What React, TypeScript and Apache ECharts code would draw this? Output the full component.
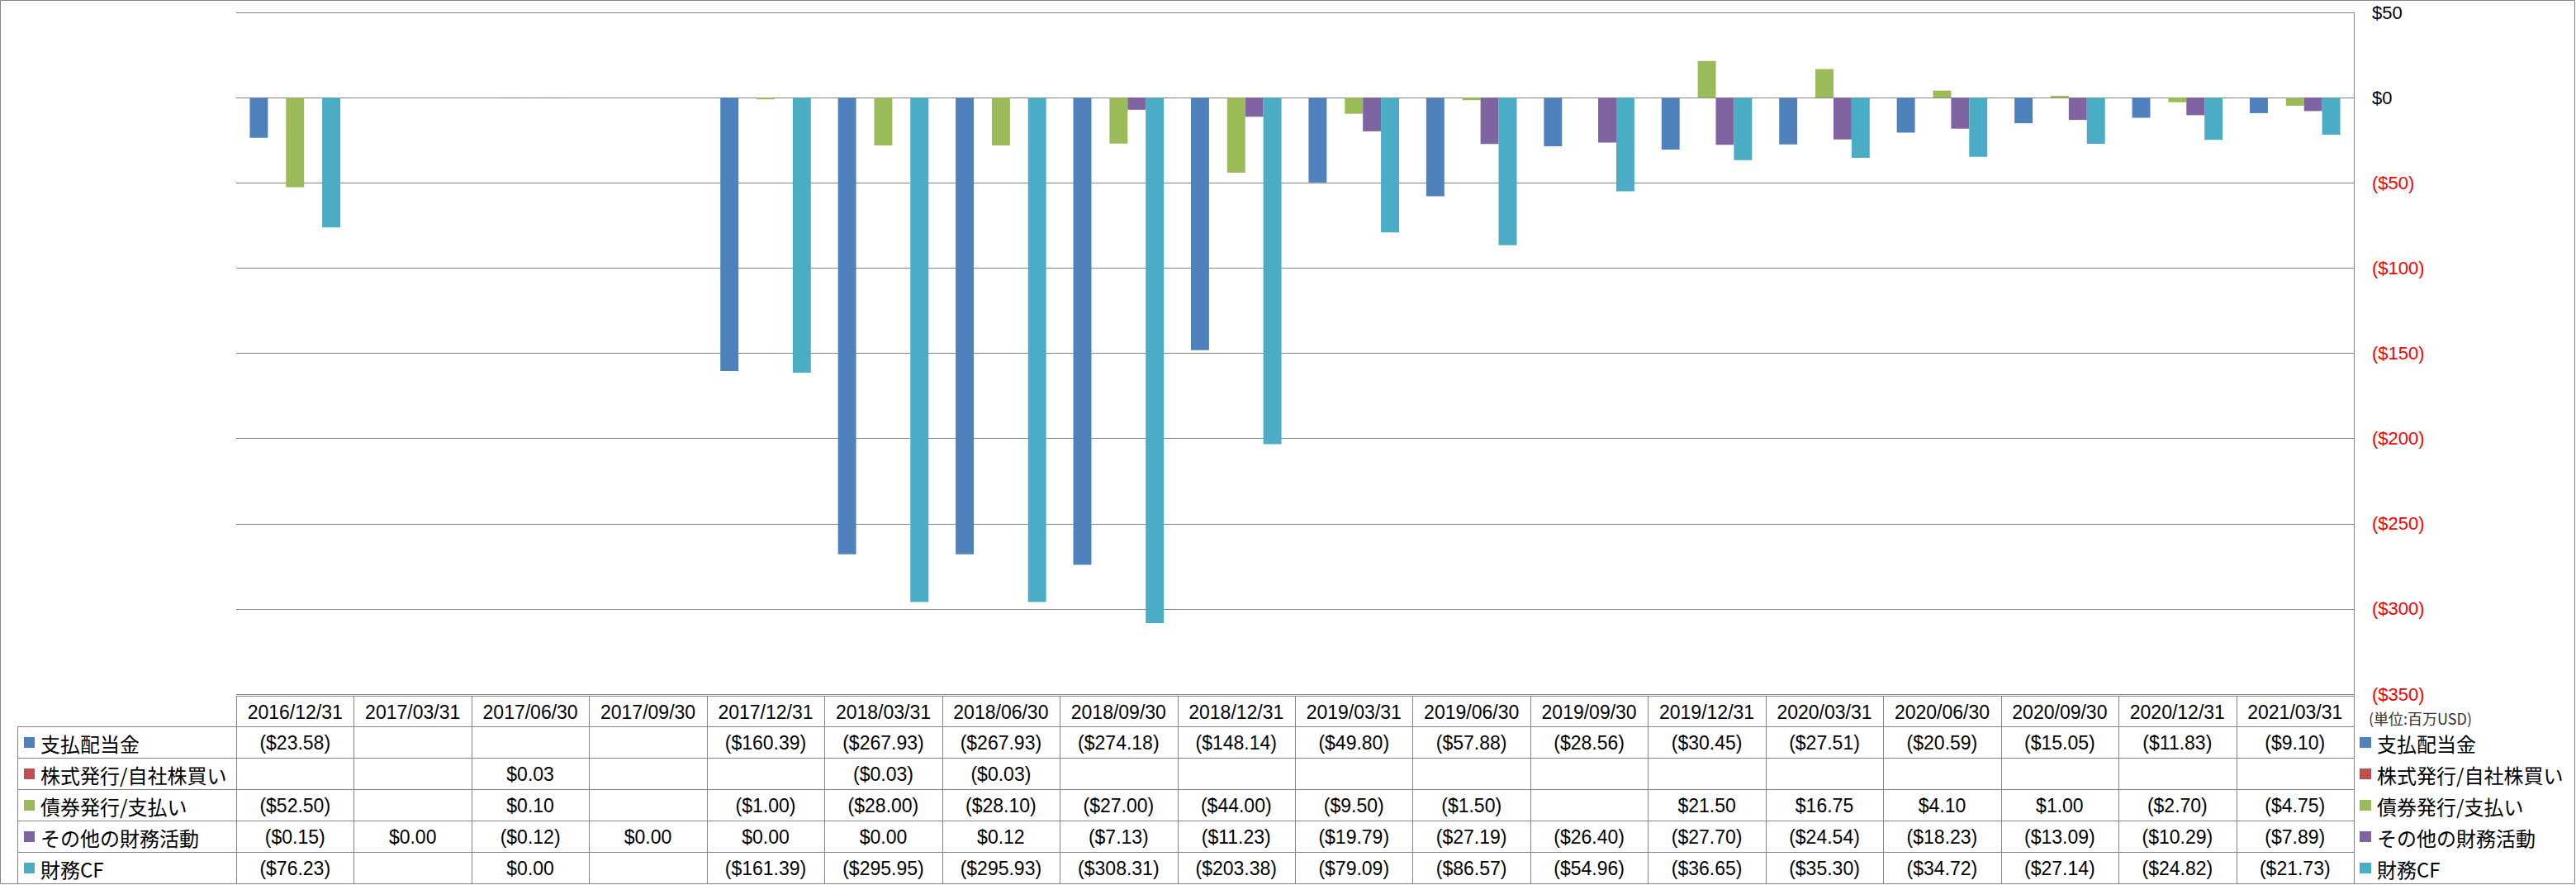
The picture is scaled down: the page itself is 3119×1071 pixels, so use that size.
import React, { useEffect, useRef } from 'react';
import * as echarts from 'echarts';

const W = 3119;
const H = 1071;

const CATEGORIES = [
  '2016/12/31', '2017/03/31', '2017/06/30', '2017/09/30', '2017/12/31', '2018/03/31',
  '2018/06/30', '2018/09/30', '2018/12/31', '2019/03/31', '2019/06/30', '2019/09/30',
  '2019/12/31', '2020/03/31', '2020/06/30', '2020/09/30', '2020/12/31', '2021/03/31',
];

const SERIES_NAMES = ['支払配当金', '株式発行/自社株買い', '債券発行/支払い', 'その他の財務活動', '財務CF'];

const DIVIDENDS = [-23.58, null, null, null, -160.39, -267.93, -267.93, -274.18, -148.14, -49.8, -57.88, -28.56, -30.45, -27.51, -20.59, -15.05, -11.83, -9.1];
const STOCK = [null, null, 0.03, null, null, -0.03, -0.03, null, null, null, null, null, null, null, null, null, null, null];
const DEBT = [-52.5, null, 0.1, null, -1.0, -28.0, -28.1, -27.0, -44.0, -9.5, -1.5, null, 21.5, 16.75, 4.1, 1.0, -2.7, -4.75];
const OTHER = [-0.15, 0.0, -0.12, 0.0, 0.0, 0.0, 0.12, -7.13, -11.23, -19.79, -27.19, -26.4, -27.7, -24.54, -18.23, -13.09, -10.29, -7.89];
const FIN_CF = [-76.23, null, 0.0, null, -161.39, -295.95, -295.93, -308.31, -203.38, -79.09, -86.57, -54.96, -36.65, -35.3, -34.72, -27.14, -24.82, -21.73];

const SERIES_DATA = [DIVIDENDS, STOCK, DEBT, OTHER, FIN_CF];
const COLORS = ['#4F81BD', '#C0504D', '#9BBB59', '#8064A2', '#4BACC6'];

const Y_MIN = -350;
const Y_MAX = 50;
const Y_STEP = 50;
const UNIT_LABEL = '(単位:百万USD)';

// layout
const PLOT_LEFT = 286;
const PLOT_RIGHT = 2850;
const PLOT_TOP = 15;
const PLOT_BOTTOM = 840;
const TABLE_TOP = 842;
const HEADER_BOTTOM = 879;
const ROW_H = 38;
const TABLE_LEFT = 21;
const LINE_COLOR = '#868686';
const NUM_FONT = '"Liberation Sans", Arial, sans-serif';
const CJK_FONT = '"Noto Sans CJK JP", "Noto Sans", sans-serif';

function fmtMoney(v: number | null): string {
  if (v === null || v === undefined) return '';
  const abs = Math.abs(v).toFixed(2);
  if (v < 0 && Number(abs) !== 0) return `($${abs})`;
  return `$${abs}`;
}

function buildGraphics() {
  const g: any[] = [];
  const colW = (PLOT_RIGHT - PLOT_LEFT) / CATEGORIES.length;
  const tableBottom = HEADER_BOTTOM + ROW_H * SERIES_NAMES.length;
  const line = (x1: number, y1: number, x2: number, y2: number) => ({
    type: 'line',
    shape: { x1, y1, x2, y2 },
    style: { stroke: LINE_COLOR, lineWidth: 1 },
    silent: true,
  });
  // outer border
  g.push({
    type: 'rect',
    shape: { x: 0.5, y: 0.5, width: W - 2, height: H - 2 },
    style: { fill: 'none', stroke: LINE_COLOR, lineWidth: 1 },
    silent: true,
  });
  // horizontal table lines
  g.push(line(PLOT_LEFT, TABLE_TOP + 0.5, PLOT_RIGHT, TABLE_TOP + 0.5));
  for (let r = 0; r <= SERIES_NAMES.length; r++) {
    const y = HEADER_BOTTOM + r * ROW_H + 0.5;
    g.push(line(TABLE_LEFT, y, PLOT_RIGHT, y));
  }
  // vertical table lines
  g.push(line(TABLE_LEFT + 0.5, HEADER_BOTTOM, TABLE_LEFT + 0.5, tableBottom));
  for (let c = 0; c <= CATEGORIES.length; c++) {
    const x = Math.round(PLOT_LEFT + c * colW) + 0.5;
    g.push(line(x, c === CATEGORIES.length ? PLOT_BOTTOM : TABLE_TOP, x, tableBottom));
  }
  // header texts
  CATEGORIES.forEach((cat, i) => {
    g.push({
      type: 'text',
      x: PLOT_LEFT + (i + 0.5) * colW,
      y: (TABLE_TOP + HEADER_BOTTOM) / 2 + 1,
      style: { text: cat, font: `23px ${NUM_FONT}`, fill: '#000', align: 'center', verticalAlign: 'middle' },
      silent: true,
    });
  });
  // rows
  SERIES_NAMES.forEach((name, r) => {
    const cy = HEADER_BOTTOM + r * ROW_H + ROW_H / 2 + 1;
    g.push({
      type: 'rect',
      shape: { x: 29, y: cy - 7, width: 13, height: 13 },
      style: { fill: COLORS[r] },
      silent: true,
    });
    g.push({
      type: 'text',
      x: 49,
      y: cy,
      style: { text: name, font: `24px ${CJK_FONT}`, fill: '#000', align: 'left', verticalAlign: 'middle' },
      silent: true,
    });
    SERIES_DATA[r].forEach((v, i) => {
      const t = fmtMoney(v as number | null);
      if (!t) return;
      g.push({
        type: 'text',
        x: PLOT_LEFT + (i + 0.5) * colW,
        y: cy,
        style: { text: t, font: `23px ${NUM_FONT}`, fill: '#000', align: 'center', verticalAlign: 'middle' },
        silent: true,
      });
    });
    // right legend
    g.push({
      type: 'rect',
      shape: { x: 2857, y: cy - 7, width: 14, height: 13 },
      style: { fill: COLORS[r] },
      silent: true,
    });
    g.push({
      type: 'text',
      x: 2878,
      y: cy,
      style: { text: name, font: `24px ${CJK_FONT}`, fill: '#000', align: 'left', verticalAlign: 'middle' },
      silent: true,
    });
  });
  // unit label
  g.push({
    type: 'text',
    x: 2868,
    y: 869,
    style: { text: UNIT_LABEL, font: `18px ${CJK_FONT}`, fill: '#333', align: 'left', verticalAlign: 'middle' },
    silent: true,
  });
  return g;
}

export default function App() {
  const ref = useRef<HTMLDivElement>(null);
  useEffect(() => {
    const chart = echarts.init(ref.current!, null, { renderer: 'svg', width: W, height: H });
    const option: any = {
      animation: false,
      backgroundColor: '#ffffff',
      grid: {
        left: PLOT_LEFT,
        right: W - PLOT_RIGHT,
        top: PLOT_TOP,
        bottom: H - PLOT_BOTTOM,
        containLabel: false,
      },
      xAxis: {
        type: 'category',
        data: CATEGORIES,
        axisLabel: { show: false },
        axisTick: { show: false },
        axisLine: { show: true, onZero: true, lineStyle: { color: LINE_COLOR, width: 1 } },
        splitLine: { show: false },
      },
      yAxis: {
        type: 'value',
        position: 'right',
        min: Y_MIN,
        max: Y_MAX,
        interval: Y_STEP,
        axisLine: { show: true, lineStyle: { color: LINE_COLOR, width: 1 } },
        axisTick: { show: false },
        splitLine: { show: true, lineStyle: { color: LINE_COLOR, width: 1 } },
        axisLabel: {
          margin: 22,
          fontSize: 22,
          fontFamily: NUM_FONT,
          formatter: (v: number) => (v < 0 ? `($${-v})` : `$${v}`),
          color: (v: any) => (Number(v) < 0 ? '#FF0000' : '#000000'),
        },
      },
      series: SERIES_NAMES.map((name, i) => ({
        name,
        type: 'bar',
        data: SERIES_DATA[i],
        barGap: '0%',
        barCategoryGap: '23.08%',
        itemStyle: { color: COLORS[i] },
      })),
      graphic: buildGraphics(),
    };
    chart.setOption(option);
    return () => chart.dispose();
  }, []);
  return (
    <div
      ref={ref}
      style={{ position: 'fixed', left: 0, top: 0, width: W, height: H, background: '#fff' }}
    />
  );
}
